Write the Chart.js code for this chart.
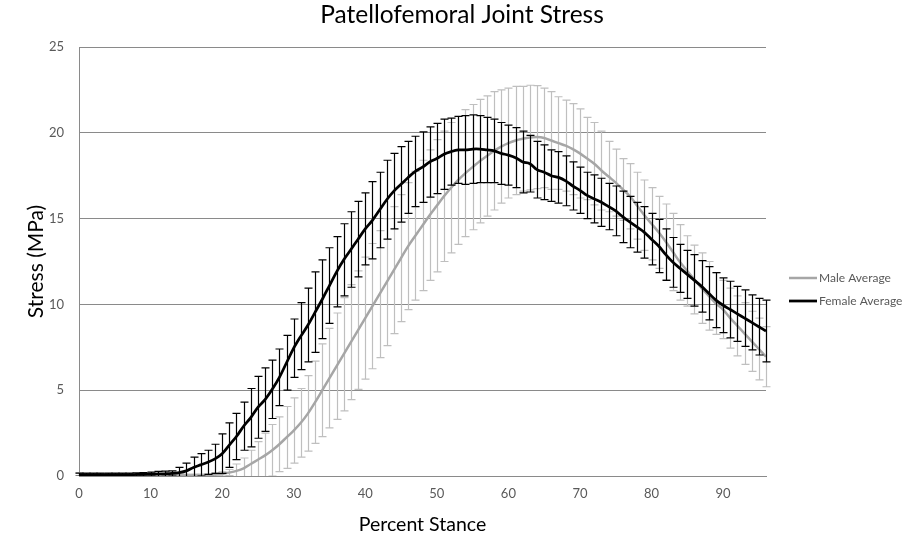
<!DOCTYPE html>
<html>
<head>
<meta charset="utf-8">
<script src="https://cdn.jsdelivr.net/npm/chart.js@4/dist/chart.umd.min.js"></script>
<style>
  html, body { margin: 0; padding: 0; background: #ffffff; }
  #wrap { width: 914px; height: 546px; }
</style>
</head>
<body>
<div id="wrap"><canvas id="c" width="914" height="546"></canvas></div>
<script>
// ---------------- DATA ----------------
const chartTitle = "Patellofemoral Joint Stress";
const xAxisTitle = "Percent Stance";
const yAxisTitle = "Stress (MPa)";
const seriesNames = ["Male Average", "Female Average"];

const percentStance = [
  0,1,2,3,4,5,6,7,8,9,10,11,12,13,14,15,16,17,18,19,
  20,21,22,23,24,25,26,27,28,29,30,31,32,33,34,35,36,37,38,39,
  40,41,42,43,44,45,46,47,48,49,50,51,52,53,54,55,56,57,58,59,
  60,61,62,63,64,65,66,67,68,69,70,71,72,73,74,75,76,77,78,79,
  80,81,82,83,84,85,86,87,88,89,90,91,92,93,94,95,96
];

const xTickValues = [0,10,20,30,40,50,60,70,80,90];
const yTickValues = [0,5,10,15,20,25];

const maleAvg = [
  0.03,0.03,0.03,0.03,0.03,0.03,0.03,0.03,0.03,0.03,0.03,0.03,0.03,0.03,0.03,0.03,0.03,0.03,0.05,0.08,
  0.12,0.2,0.3,0.45,0.7,0.95,1.2,1.5,1.85,2.25,2.65,3.1,3.65,4.3,5.0,5.7,6.4,7.1,7.8,8.5,
  9.2,9.9,10.6,11.3,12.0,12.7,13.4,14.0,14.6,15.2,15.75,16.3,16.8,17.25,17.65,18.0,18.35,18.65,18.95,19.2,
  19.4,19.55,19.65,19.72,19.75,19.7,19.55,19.4,19.25,19.05,18.8,18.5,18.2,17.8,17.45,17.1,16.7,16.3,15.75,15.2,
  14.7,14.2,13.65,13.05,12.45,11.95,11.45,10.95,10.5,10.05,9.7,9.2,8.75,8.3,7.85,7.4,6.95
];
const maleSD = [
  0.15,0.08,0.08,0.08,0.08,0.08,0.08,0.08,0.08,0.08,0.08,0.08,0.08,0.08,0.08,0.08,0.08,0.08,0.08,0.1,
  0.12,0.18,0.4,0.6,0.8,1.05,1.3,1.5,1.6,1.8,1.9,2.0,2.2,2.4,2.7,2.9,3.1,3.3,3.35,3.45,
  3.55,3.65,3.7,3.7,3.7,3.7,3.7,3.75,3.8,3.8,3.85,3.8,3.8,3.75,3.7,3.65,3.6,3.5,3.45,3.3,
  3.2,3.15,3.05,3.05,3.0,2.9,2.85,2.7,2.65,2.65,2.6,2.4,2.4,2.3,2.05,1.95,1.8,1.9,1.95,2.05,
  2.1,2.1,2.2,2.25,2.2,2.05,2.0,2.05,2.0,1.8,1.7,1.75,1.75,1.8,1.75,1.8,1.75
];
const femaleAvg = [
  0.08,0.08,0.08,0.08,0.08,0.08,0.08,0.08,0.09,0.1,0.11,0.12,0.13,0.15,0.2,0.3,0.5,0.65,0.8,1.0,
  1.3,1.8,2.3,2.9,3.4,4.0,4.45,5.05,5.75,6.6,7.45,8.15,8.8,9.55,10.3,11.1,11.9,12.6,13.2,13.8,
  14.4,14.9,15.5,16.1,16.6,17.0,17.4,17.75,18.0,18.3,18.5,18.75,18.9,19.0,19.0,19.05,19.05,19.0,18.95,18.8,
  18.7,18.55,18.3,18.2,17.85,17.7,17.5,17.4,17.2,16.9,16.65,16.35,16.15,15.95,15.7,15.45,15.1,14.8,14.5,14.2,
  13.8,13.4,12.9,12.45,12.1,11.75,11.4,11.05,10.65,10.25,9.95,9.7,9.45,9.2,8.95,8.7,8.45
];
const femaleSD = [
  0.09,0.09,0.09,0.09,0.09,0.09,0.09,0.09,0.1,0.1,0.12,0.15,0.15,0.15,0.3,0.45,0.6,0.65,0.7,0.85,
  1.15,1.3,1.35,1.4,1.7,1.8,1.85,1.7,1.65,1.6,1.7,1.95,2.15,2.35,2.3,2.2,2.05,2.1,2.2,2.2,
  2.1,2.25,2.2,2.3,2.2,2.2,2.1,2.05,2.05,2.05,2.05,2.05,1.95,1.95,2.0,2.0,1.95,1.9,1.85,1.8,
  1.75,1.75,1.8,1.65,1.65,1.6,1.5,1.5,1.45,1.4,1.35,1.35,1.4,1.4,1.35,1.45,1.5,1.5,1.45,1.5,
  1.5,1.55,1.5,1.45,1.4,1.4,1.5,1.5,1.55,1.6,1.6,1.65,1.6,1.65,1.6,1.65,1.8
];

// ---------------- STYLE ----------------
const FONT = "Lato, 'Open Sans', sans-serif";
const TEXT_GREY = "#595959";
const GRID_GREY = "#8a8a8a";
const MALE_LINE = "#a6a6a6";
const MALE_BAR = "#bfbfbf";
const FEMALE_LINE = "#000000";
const FEMALE_BAR = "#000000";

// Error bars drawn through the chart's own scales, just before each dataset's line.
const errorBarPlugin = {
  id: 'errorBars',
  beforeDatasetDraw(chart, args) {
    const ds = chart.data.datasets[args.index];
    if (!ds.errorValues) return;
    const ctx = chart.ctx;
    const xs = chart.scales.x, ys = chart.scales.y;
    const area = chart.chartArea;
    ctx.save();
    ctx.beginPath();
    ctx.rect(0, area.top - 1, chart.width, area.bottom - area.top + 1);
    ctx.clip();
    ctx.strokeStyle = ds.errorColor;
    ctx.lineWidth = 1.2;
    const cap = 4;
    chart.data.labels.forEach((lab, i) => {
      const v = ds.data[i], e = ds.errorValues[i];
      const px = Math.round(xs.getPixelForValue(lab)) + 0.5;
      const pt = ys.getPixelForValue(v + e);
      const pb = ys.getPixelForValue(v - e);
      ctx.beginPath();
      ctx.moveTo(px, pt); ctx.lineTo(px, pb);
      ctx.moveTo(px - cap, pt); ctx.lineTo(px + cap, pt);
      ctx.moveTo(px - cap, pb); ctx.lineTo(px + cap, pb);
      ctx.stroke();
    });
    ctx.restore();
  }
};

// Chart title centred on the whole canvas, and legend on the right.
const textPlugin = {
  id: 'titleAndLegend',
  afterDraw(chart) {
    const ctx = chart.ctx;
    ctx.save();
    ctx.fillStyle = "#000000";
    ctx.font = "24.5px " + FONT;
    ctx.textAlign = 'center';
    ctx.textBaseline = 'alphabetic';
    ctx.fillText(chartTitle, 462, 23);

    const x0 = chart.chartArea.right + 23;
    const rows = [278, 301];
    const order = [1, 0]; // Male first, Female second
    order.forEach((dsIndex, r) => {
      const ds = chart.data.datasets[dsIndex];
      const y = rows[r];
      ctx.strokeStyle = ds.borderColor;
      ctx.lineWidth = ds.borderWidth;
      ctx.beginPath();
      ctx.moveTo(x0, y); ctx.lineTo(x0 + 28, y);
      ctx.stroke();
      ctx.fillStyle = TEXT_GREY;
      ctx.font = "12px " + FONT;
      ctx.textBaseline = 'middle';
      ctx.textAlign = 'left';
      ctx.fillText(ds.label, x0 + 30, y);
    });
    ctx.restore();
  }
};

const ctx = document.getElementById('c').getContext('2d');
new Chart(ctx, {
  type: 'line',
  data: {
    labels: percentStance,
    datasets: [
      {
        label: seriesNames[1],
        data: femaleAvg,
        errorValues: femaleSD,
        errorColor: FEMALE_BAR,
        borderColor: FEMALE_LINE,
        borderWidth: 2.75,
        pointRadius: 0,
        tension: 0.35,
        fill: false,
        order: 0
      },
      {
        label: seriesNames[0],
        data: maleAvg,
        errorValues: maleSD,
        errorColor: MALE_BAR,
        borderColor: MALE_LINE,
        borderWidth: 2.5,
        pointRadius: 0,
        tension: 0.35,
        fill: false,
        order: 1
      }
    ]
  },
  options: {
    responsive: false,
    animation: false,
    devicePixelRatio: 1,
    layout: { padding: { left: 0, right: 148, top: 47, bottom: 0 } },
    plugins: {
      legend: { display: false },
      tooltip: { enabled: false },
      title: { display: false }
    },
    scales: {
      x: {
        type: 'linear',
        min: 0,
        max: 96,
        afterBuildTicks(scale) { scale.ticks = xTickValues.map(v => ({ value: v })); },
        afterFit(scale) { scale.height = 70; },
        grid: { display: false, drawTicks: false },
        border: { display: true, color: GRID_GREY, width: 1 },
        ticks: { color: TEXT_GREY, font: { family: FONT, size: 13 }, padding: 10, maxRotation: 0 },
        title: {
          display: true, text: xAxisTitle, color: "#000000",
          font: { family: FONT, size: 19.5 }, padding: { top: 0, bottom: 10 }
        }
      },
      y: {
        min: 0,
        max: 25,
        afterBuildTicks(scale) { scale.ticks = yTickValues.map(v => ({ value: v })); },
        afterFit(scale) { scale.width = 79; },
        grid: { color: GRID_GREY, lineWidth: 1, drawTicks: false },
        border: { display: true, color: GRID_GREY, width: 1 },
        ticks: { color: TEXT_GREY, font: { family: FONT, size: 13 }, padding: 15 },
        title: {
          display: true, text: yAxisTitle, color: "#000000",
          font: { family: FONT, size: 21 }, padding: { top: 24, bottom: 0 }
        }
      }
    }
  },
  plugins: [errorBarPlugin, textPlugin]
});
</script>
</body>
</html>
